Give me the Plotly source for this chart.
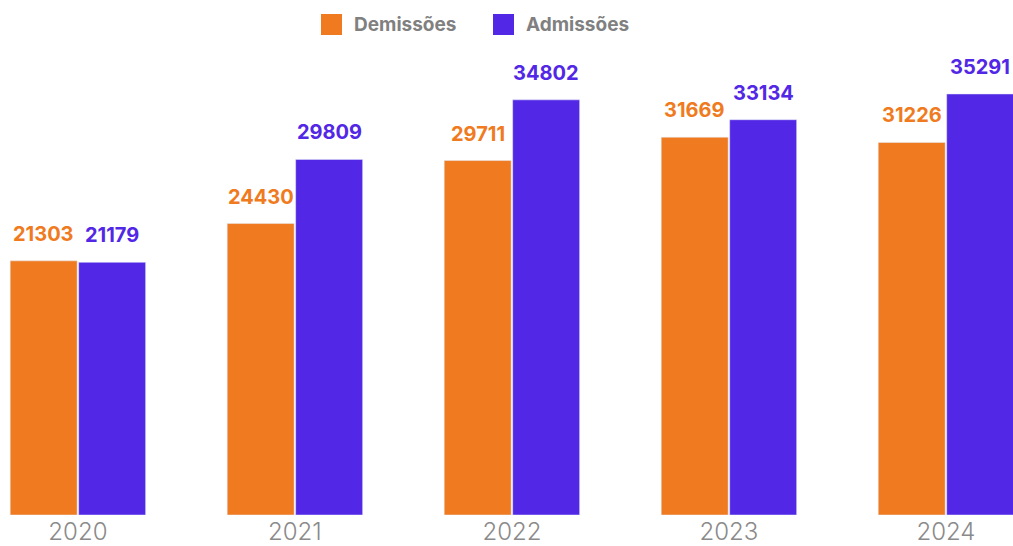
import plotly.graph_objects as go

years = ["2020", "2021", "2022", "2023", "2024"]
demissoes = [21303, 24430, 29711, 31669, 31226]
admissoes = [21179, 29809, 34802, 33134, 35291]

ORANGE = "#F07A20"
PURPLE = "#5227E6"
FONT = "Inter"

fig = go.Figure()
fig.add_trace(go.Bar(x=years, y=demissoes, name="Demissões", marker_color=ORANGE, showlegend=False))
fig.add_trace(go.Bar(x=years, y=admissoes, name="Admissões", marker_color=PURPLE, showlegend=False))

annotations = []
for i, (d, a) in enumerate(zip(demissoes, admissoes)):
    annotations.append(dict(x=i, y=d, xref="x", yref="y", text=f"<b>{d}</b>", showarrow=False,
                            xshift=-34.25, yshift=13, yanchor="bottom",
                            font=dict(family=FONT, size=20, color=ORANGE)))
    annotations.append(dict(x=i, y=a, xref="x", yref="y", text=f"<b>{a}</b>", showarrow=False,
                            xshift=34.25, yshift=13, yanchor="bottom",
                            font=dict(family=FONT, size=20, color=PURPLE)))

# manual legend
PLOT_H = 515
shapes = []
legend_items = [("Demissões", ORANGE, 321), ("Admissões", PURPLE, 493)]
for name, col, px in legend_items:
    shapes.append(dict(type="rect", xref="paper", yref="paper",
                       x0=px / 1013, x1=(px + 21) / 1013,
                       y0=(PLOT_H - 14) / PLOT_H, y1=(PLOT_H - 35) / PLOT_H,
                       fillcolor=col, line=dict(width=0)))
    annotations.append(dict(x=(px + 31) / 1013, y=(PLOT_H - 25) / PLOT_H, xref="paper", yref="paper",
                            text=f"<b>{name}</b>", showarrow=False, xanchor="left", yanchor="middle",
                            font=dict(family=FONT, size=19, color="#808080")))

fig.update_layout(
    width=1013, height=546,
    margin=dict(l=0, r=0, t=0, b=546 - PLOT_H),
    paper_bgcolor="white", plot_bgcolor="white",
    barmode="group", bargap=0.369, bargroupgap=0.022,
    annotations=annotations, shapes=shapes,
    xaxis=dict(type="category", range=[-0.359, 4.309], showgrid=False, zeroline=False, showline=False,
               ticks="", ticklabelstandoff=0, automargin=False,
               tickfont=dict(family=FONT, size=24, color="#8a8a8a", weight=300)),
    yaxis=dict(range=[0, 43170], visible=False, automargin=False),
    showlegend=False,
)

fig.write_html("out.html")
